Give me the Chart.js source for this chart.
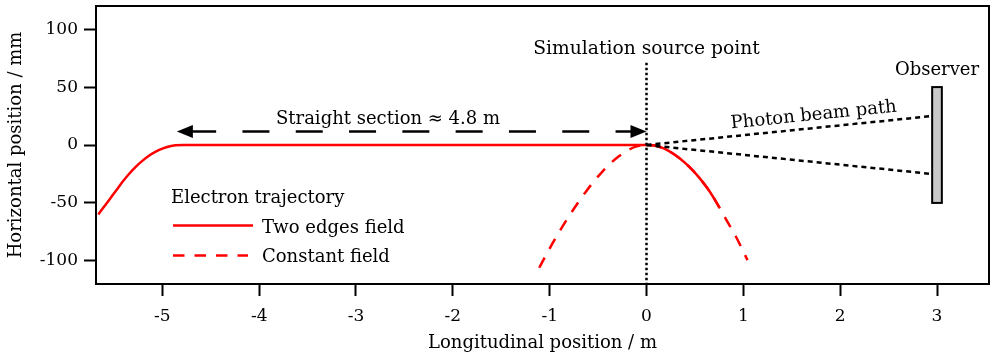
<!DOCTYPE html>
<html>
<head>
<meta charset="utf-8">
<script src="https://cdn.jsdelivr.net/npm/chart.js@4.4.1/dist/chart.umd.min.js"></script>
<style>
  html, body { margin: 0; padding: 0; background: #fff; }
</style>
</head>
<body>
<canvas id="trajChart" width="993" height="357"></canvas>
<script>
// --- DATA ---
// longitudinal position (m) / horizontal position (mm)
const twoEdgesX = [-5.661, -5.602, -5.551, -5.481, -5.413, -5.344, -5.275, -5.207, -5.138, -5.068, -5.0, -4.931, -4.862, -4.79, -3.5, -2, -1, 0,
                   0.062, 0.131, 0.2, 0.269, 0.338, 0.407, 0.475, 0.544, 0.614, 0.682, 0.751];
const twoEdgesY = [-59.9, -53.3, -47.6, -39.8, -32.0, -25.0, -18.9, -13.7, -9.3, -5.8, -3.1, -1.3, -0.3, 0, 0, 0, 0, 0,
                   -0.3, -1.5, -3.8, -7.1, -11.2, -16.1, -21.7, -28.2, -35.7, -44.0, -53.7];
const constantX = [-1.108, -1.039, -0.971, -0.884, -0.798, -0.713, -0.626, -0.540, -0.455, -0.368, -0.282, -0.196, -0.11, 0,
                   0.062, 0.131, 0.2, 0.269, 0.338, 0.407, 0.475, 0.544, 0.614, 0.682, 0.751, 0.82, 0.924, 1.043];
const constantY = [-106, -95.2, -85.0, -72.6, -61.2, -50.5, -40.3, -31.1, -22.9, -15.6, -9.5, -4.7, -1.4, 0,
                   -0.3, -1.5, -3.8, -7.1, -11.2, -16.1, -21.7, -28.2, -35.7, -44.0, -53.7, -64, -79.2, -99.4];

const xTicks = [-5, -4, -3, -2, -1, 0, 1, 2, 3];
const yTicks = [-100, -50, 0, 50, 100];

const straightSection = [-4.85, 0];   // arrow from / to (m)
const straightLevel = 11.7;            // mm
const sourceLine = [71, -120];         // vertical marker at x = 0
const beamEndX = 2.95;
const beamEdges = [25, -25];           // mm at the observer
const observerX = [2.95, 3.05];
const observerY = [-50, 50];

const FONT = '"DejaVu Serif", "Liberation Serif", serif';
const RED = '#ff0000';

const pts = (xs, ys) => xs.map((x, i) => ({ x: x, y: ys[i] }));

// --- ANNOTATIONS / FRAME / LEGEND ---
const decorPlugin = {
    id: 'decor',
    afterDraw(chart) {
        const { ctx, chartArea: a, scales: { x, y } } = chart;
        ctx.save();

        // frame around the plot
        ctx.strokeStyle = '#000';
        ctx.lineWidth = 2;
        ctx.strokeRect(a.left, a.top, a.right - a.left, a.bottom - a.top);

        // arrow heads for straight section
        const ay = y.getPixelForValue(straightLevel);
        const head = (tipX, dir) => {
            ctx.beginPath();
            ctx.moveTo(tipX, ay);
            ctx.lineTo(tipX + dir * 16, ay - 6.5);
            ctx.lineTo(tipX + dir * 16, ay + 6.5);
            ctx.closePath();
            ctx.fillStyle = '#000';
            ctx.fill();
        };
        head(x.getPixelForValue(straightSection[0]), 1);
        head(x.getPixelForValue(straightSection[1]), -1);

        // observer screen
        const ox0 = x.getPixelForValue(observerX[0]), ox1 = x.getPixelForValue(observerX[1]);
        const oy0 = y.getPixelForValue(observerY[1]), oy1 = y.getPixelForValue(observerY[0]);
        ctx.fillStyle = '#c8c8c8';
        ctx.fillRect(ox0, oy0, ox1 - ox0, oy1 - oy0);
        ctx.strokeStyle = '#000';
        ctx.lineWidth = 2;
        ctx.strokeRect(ox0, oy0, ox1 - ox0, oy1 - oy0);

        // labels
        ctx.fillStyle = '#000';
        ctx.textAlign = 'center';
        ctx.textBaseline = 'alphabetic';
        ctx.font = '18.7px ' + FONT;
        ctx.fillText('Simulation source point', x.getPixelForValue(0), 54);
        ctx.font = '18px ' + FONT;
        ctx.fillText('Observer', x.getPixelForValue(3), 75);
        ctx.fillText('Straight section \u2248 4.8 m', 388, 124);

        // text along the upper photon path
        const px0 = x.getPixelForValue(0), py0 = y.getPixelForValue(0);
        const px1 = x.getPixelForValue(beamEndX), py1 = y.getPixelForValue(beamEdges[0]);
        const ang = Math.atan2(py1 - py0, px1 - px0);
        const t = 0.59;
        ctx.save();
        ctx.translate(px0 + (px1 - px0) * t, py0 + (py1 - py0) * t);
        ctx.rotate(ang);
        ctx.fillText('Photon beam path', 0, -8);
        ctx.restore();

        // legend
        ctx.textAlign = 'left';
        ctx.fillText('Electron trajectory', 171, 203);
        ctx.fillText('Two edges field', 262, 233);
        ctx.fillText('Constant field', 262, 262);
        ctx.strokeStyle = RED;
        ctx.lineWidth = 2.5;
        ctx.beginPath();
        ctx.moveTo(173, 225.5);
        ctx.lineTo(253, 225.5);
        ctx.stroke();
        ctx.setLineDash([11.5, 10]);
        ctx.beginPath();
        ctx.moveTo(173, 255.5);
        ctx.lineTo(248, 255.5);
        ctx.stroke();

        ctx.restore();
    }
};

const ctx = document.getElementById('trajChart').getContext('2d');

new Chart(ctx, {
    type: 'line',
    data: {
        datasets: [
            {
                label: 'Constant field',
                data: pts(constantX, constantY),
                borderColor: RED,
                borderWidth: 2.5,
                borderDash: [11.5, 10],
                cubicInterpolationMode: 'monotone',
                pointRadius: 0,
                order: 2
            },
            {
                label: 'Two edges field',
                data: pts(twoEdgesX, twoEdgesY),
                borderColor: RED,
                borderWidth: 2.5,
                cubicInterpolationMode: 'monotone',
                pointRadius: 0,
                order: 1
            },
            {
                label: 'source',
                data: [{ x: 0, y: sourceLine[0] }, { x: 0, y: sourceLine[1] }],
                borderColor: '#000',
                borderWidth: 2.5,
                borderDash: [2.5, 2.5],
                pointRadius: 0,
                order: 0
            },
            {
                label: 'beam upper',
                data: [{ x: 0, y: 0 }, { x: beamEndX, y: beamEdges[0] }],
                borderColor: '#000',
                borderWidth: 2.5,
                borderDash: [5, 4],
                pointRadius: 0,
                order: 0
            },
            {
                label: 'beam lower',
                data: [{ x: 0, y: 0 }, { x: beamEndX, y: beamEdges[1] }],
                borderColor: '#000',
                borderWidth: 2.5,
                borderDash: [5, 4],
                pointRadius: 0,
                order: 0
            },
            {
                label: 'straight',
                data: [{ x: straightSection[0], y: straightLevel }, { x: straightSection[1], y: straightLevel }],
                borderColor: '#000',
                borderWidth: 2.5,
                borderDash: [27, 26.3],
                borderDashOffset: 41,
                pointRadius: 0,
                order: 0
            }
        ]
    },
    options: {
        responsive: false,
        animation: false,
        devicePixelRatio: 1,
        layout: { padding: { left: 0, right: 4, top: 6, bottom: 0 } },
        plugins: {
            legend: { display: false },
            tooltip: { enabled: false }
        },
        scales: {
            x: {
                type: 'linear',
                min: -5.685,
                max: 3.537,
                afterBuildTicks: s => { s.ticks = xTicks.map(v => ({ value: v })); },
                afterFit: s => { s.height = 73; s.paddingLeft = 0; s.paddingRight = 0; },
                grid: { drawOnChartArea: false, drawTicks: true, tickLength: 12, tickWidth: 2, tickColor: '#000' },
                border: { display: true, color: '#000', width: 2 },
                ticks: { color: '#000', font: { family: FONT, size: 17 }, padding: 10, maxRotation: 0, autoSkip: false, callback: v => String(v) },
                title: { display: true, text: 'Longitudinal position / m', color: '#000', font: { family: FONT, size: 18 }, padding: { top: 0, bottom: 3 } }
            },
            y: {
                type: 'linear',
                min: -120,
                max: 120,
                afterBuildTicks: s => { s.ticks = yTicks.map(v => ({ value: v })); },
                afterFit: s => { s.width = 96; s.paddingTop = 0; s.paddingBottom = 0; },
                grid: { drawOnChartArea: false, drawTicks: true, tickLength: 12, tickWidth: 2, tickColor: '#000' },
                border: { display: true, color: '#000', width: 2 },
                ticks: { color: '#000', font: { family: FONT, size: 17 }, padding: 6, callback: v => String(v) },
                title: { display: true, text: 'Horizontal position / mm', color: '#000', font: { family: FONT, size: 18 }, padding: { top: 6, bottom: 0 } }
            }
        }
    },
    plugins: [decorPlugin]
});
</script>
</body>
</html>
